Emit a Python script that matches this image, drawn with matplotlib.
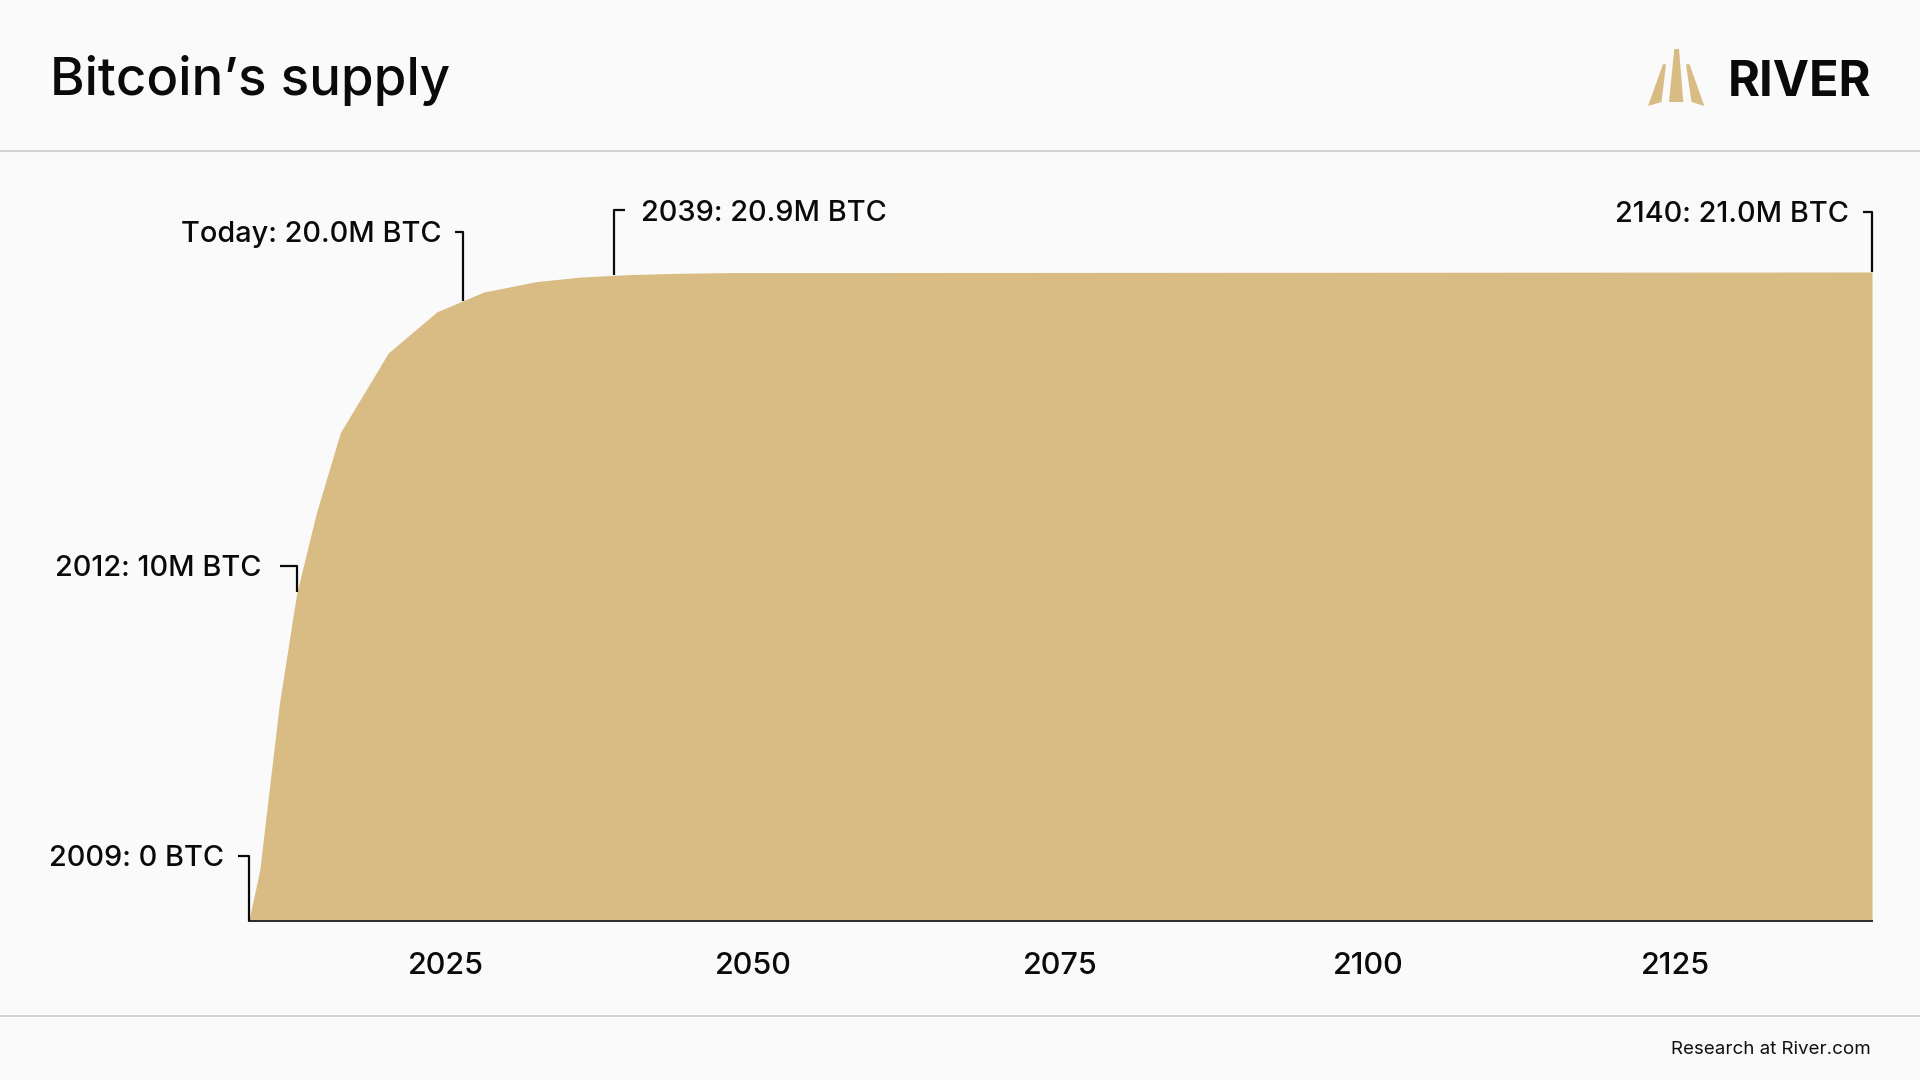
import matplotlib
matplotlib.use("Agg")
import matplotlib.pyplot as plt
import numpy as np
from matplotlib.patches import Polygon
from matplotlib.lines import Line2D

# ---- data ----
years = [2009.0, 2009.55, 2009.9, 2011.5, 2012.9, 2014.5, 2016.45, 2020.35,
         2024.3, 2028.1, 2032.4, 2036.1, 2040.2, 2044.2, 2048.2, 2141.0]
supply_m = [0.0, 1.0, 1.65, 7.05, 10.6, 13.2, 15.8, 18.38,
            19.71, 20.35, 20.69, 20.84, 20.92, 20.96, 20.98, 21.0]
tick_years = [2025, 2050, 2075, 2100, 2125]
tick_labels = ["2025", "2050", "2075", "2100", "2125"]
ann_years = [2009.0, 2012.93, 2026.4, 2038.7, 2141.0]
ann_texts = ["2009: 0 BTC", "2012: 10M BTC", "Today: 20.0M BTC",
             "2039: 20.9M BTC", "2140: 21.0M BTC"]
ann_side = ["left", "left", "left", "right", "left"]
ann_rise_px = [65, 26, 69, 65, 60]
ann_hook_px = [11, 17, 8, 11, 9]
ann_gap_px = [14, 19, 13, 16, 14]

GOLD = "#D9BC83"
BG = "#FAFAFA"
FONT = "Inter"
INK = "#0A0A0A"

W, H = 1920, 1080
fig = plt.figure(figsize=(19.2, 10.8), dpi=100, facecolor=BG)

def fx(px):
    return px / W

def fy(py):
    return 1 - py / H

# header / footer separators
fig.add_artist(Line2D([0, 1], [fy(151), fy(151)], transform=fig.transFigure,
                      color="#CFCFCF", lw=1.3))
fig.add_artist(Line2D([0, 1], [fy(1016), fy(1016)], transform=fig.transFigure,
                      color="#CFCFCF", lw=1.3))

# title
fig.text(fx(50), fy(95), "Bitcoin\u2019s supply", fontsize=38, family=FONT,
         weight="medium", ha="left", va="baseline", color=INK)

# logo
fig.text(fx(1871), fy(95.7), "RIVER", fontsize=35, family=FONT, weight="bold",
         ha="right", va="baseline", color=INK)
logo_polys = [
    [(1648, 106), (1661.5, 102), (1666, 64.3), (1663, 64.3)],
    [(1669, 102), (1683.3, 102), (1679, 49), (1674.3, 49)],
    [(1686, 64.3), (1689.5, 64.3), (1704.3, 106), (1691.5, 102)],
]
for poly in logo_polys:
    fig.add_artist(Polygon([(fx(a), fy(b)) for a, b in poly], closed=True,
                           transform=fig.transFigure, facecolor=GOLD,
                           edgecolor="none"))

# footer
fig.text(fx(1871), fy(1049), "Research at River.com", fontsize=13.5,
         family=FONT, ha="right", va="center", color="#111111")

# axes
x0, x1 = 248.7, 1872.0
ytop, ybot = 272.0, 921.0
ax = fig.add_axes([fx(x0), fy(ybot), fx(x1) - fx(x0), (ybot - ytop) / H])
ax.set_facecolor("none")
ax.fill_between(years, supply_m, 0, color=GOLD, lw=0)
ax.set_xlim(2009, 2141)
ax.set_ylim(0, 21)
for s in ["top", "left", "right"]:
    ax.spines[s].set_visible(False)
ax.spines["bottom"].set_color("#2A2A2A")
ax.spines["bottom"].set_linewidth(1.4)
ax.set_yticks([])
ax.set_xticks(tick_years)
ax.set_xticklabels(tick_labels, fontsize=22, family=FONT, weight="medium",
                   color=INK)
ax.tick_params(axis="x", length=0, pad=22)

# annotations (leaders)
fig.canvas.draw()
for yr, txt, side, rise, hook, gap in zip(ann_years, ann_texts, ann_side,
                                         ann_rise_px, ann_hook_px, ann_gap_px):
    val = float(np.interp(yr, years, supply_m))
    px, py = ax.transData.transform((yr, val))
    top = py + rise
    if side == "left":
        hx = px - hook
        tx = hx - gap
        ha = "right"
    else:
        hx = px + hook
        tx = hx + gap
        ha = "left"
    line = Line2D([px / W, px / W, hx / W], [py / H, top / H, top / H],
                  transform=fig.transFigure, color=INK, lw=1.6,
                  solid_joinstyle="round", solid_capstyle="butt")
    fig.add_artist(line)
    fig.text(tx / W, (top - 3) / H, txt, fontsize=20.8, family=FONT,
             weight="medium", ha=ha, va="center", color=INK)

fig.savefig("out.png", dpi=100, facecolor=BG)
